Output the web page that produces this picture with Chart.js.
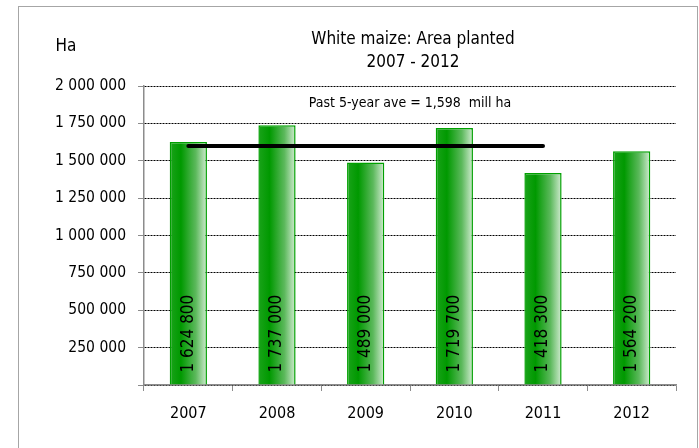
<!DOCTYPE html>
<html>
<head>
<meta charset="utf-8">
<script src="https://cdn.jsdelivr.net/npm/chart.js@4.4.1/dist/chart.umd.min.js"></script>
<style>
  body { margin: 0; background: #fff; }
  #frame { position: absolute; left: 18px; top: 6px; width: 678px; height: 460px; border: 1px solid #a6a6a6; }
  #salesChart { position: absolute; left: 0; top: 0; }
</style>
</head>
<body>
<div id="frame"></div>
<canvas id="salesChart" width="699" height="448"></canvas>
<script>
// Data for the chart
const years = ['2007', '2008', '2009', '2010', '2011', '2012'];
const areaPlanted = [1624800, 1737000, 1489000, 1719700, 1418300, 1564200];
const pastAverage = [1598000, 1598000, 1598000, 1598000, 1598000, null];
const yTicks = [0, 250000, 500000, 750000, 1000000, 1250000, 1500000, 1750000, 2000000];

const FONT = '"DejaVu Sans Condensed", "DejaVu Sans", sans-serif';

// 1624800 -> "1 624 800"
function spaced(n) {
    return String(n).replace(/\B(?=(\d{3})+(?!\d))/g, ' ');
}

// Green bar fill, light towards the right edge
function barFill(context) {
    const chart = context.chart;
    const area = chart.chartArea;
    if (!area) return '#009900';
    const x = chart.scales.x.getPixelForValue(context.dataIndex);
    const half = area.width / years.length * 0.42 / 2;
    const g = chart.ctx.createLinearGradient(x - half, 0, x + half, 0);
    g.addColorStop(0, '#1aa31a');
    g.addColorStop(0.3, '#009900');
    g.addColorStop(0.7, '#5cb95c');
    g.addColorStop(1, '#d2ecd2');
    return g;
}

// Extra texts: unit, title, average note and the value inside each bar
const textPlugin = {
    id: 'texts',
    afterDatasetsDraw(chart) {
        const ctx = chart.ctx;
        const area = chart.chartArea;
        const mid = (area.left + area.right) / 2;
        ctx.save();
        ctx.fillStyle = '#000';
        ctx.textAlign = 'center';
        ctx.textBaseline = 'middle';
        ctx.font = '17px ' + FONT;
        ctx.fillText('Ha', 66, 47);
        ctx.fillText('White maize: Area planted', mid + 3, 40);
        ctx.fillText('2007 - 2012', mid + 3, 63);
        ctx.font = '14px ' + FONT;
        ctx.fillText('Past 5-year ave = 1,598  mill ha', mid, 103);

        const bars = chart.getDatasetMeta(0).data;
        ctx.font = '17px ' + FONT;
        ctx.textAlign = 'left';
        bars.forEach((bar, i) => {
            ctx.save();
            ctx.translate(bar.x, bar.base - 12);
            ctx.rotate(-Math.PI / 2);
            ctx.fillText(spaced(areaPlanted[i]), 0, 0);
            ctx.restore();
        });
        ctx.restore();
    }
};

const config = {
    data: {
        labels: years,
        datasets: [{
            type: 'bar',
            label: 'Area planted',
            data: areaPlanted,
            backgroundColor: barFill,
            borderColor: '#00a000',
            borderWidth: 1.5,
            categoryPercentage: 1,
            barPercentage: 0.42,
            order: 2
        }, {
            type: 'line',
            label: 'Past 5-year average',
            data: pastAverage,
            borderColor: '#000',
            borderWidth: 4,
            borderCapStyle: 'round',
            pointRadius: 0,
            spanGaps: false,
            order: 1
        }]
    },
    options: {
        responsive: false,
        animation: false,
        layout: { padding: { left: 0, right: 23, top: 86, bottom: 0 } },
        plugins: {
            legend: { display: false },
            title: { display: false },
            tooltip: { enabled: false }
        },
        scales: {
            x: {
                grid: {
                    drawOnChartArea: false,
                    drawTicks: true,
                    tickLength: 6,
                    tickColor: '#8c8c8c',
                    offset: true
                },
                border: { color: '#8c8c8c', width: 1.5 },
                ticks: { color: '#000', font: { family: FONT, size: 16 }, padding: 13 },
                afterFit(scale) { scale.height = 63; }
            },
            y: {
                min: 0,
                max: 2000000,
                afterBuildTicks(scale) { scale.ticks = yTicks.map(v => ({ value: v })); },
                grid: {
                    color: '#000',
                    lineWidth: 1,
                    tickLength: 6,
                    tickColor: '#8c8c8c',
                    tickBorderDash: []
                },
                border: { color: '#8c8c8c', width: 1.5, dash: [2, 1] },
                ticks: {
                    color: '#000',
                    font: { family: FONT, size: 15.5 },
                    padding: 12,
                    callback: v => (v === 0 ? '' : spaced(v))
                },
                afterFit(scale) { scale.width = 144; }
            }
        }
    },
    plugins: [textPlugin]
};

// Render the chart
const ctx = document.getElementById('salesChart').getContext('2d');
const salesChart = new Chart(ctx, config);
</script>
</body>
</html>
